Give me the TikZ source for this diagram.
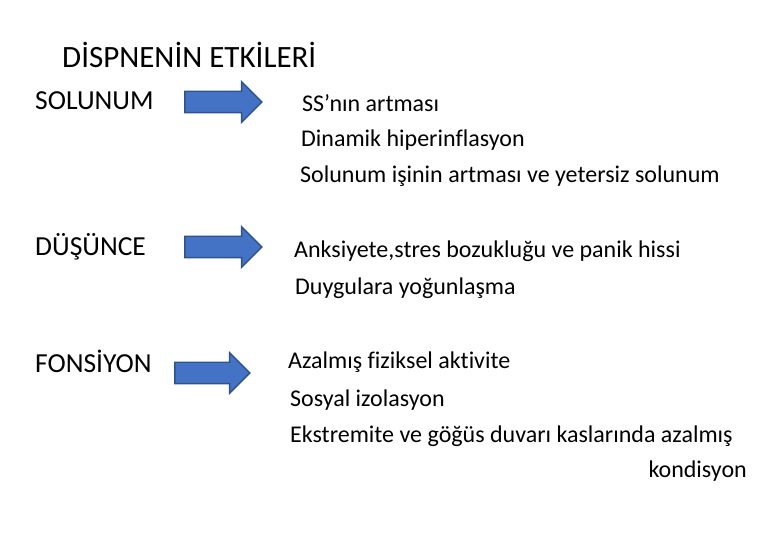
\documentclass[tikz,border=0pt]{standalone}
\usepackage{fontspec}
\setmainfont{Carlito}[Ligatures=CommonOff]
\usepackage{tikz}
\usetikzlibrary{shapes,shapes.arrows,positioning,calc}

\definecolor{arrowfill}{HTML}{4472C4}
\definecolor{arrowline}{HTML}{2F528F}

\begin{document}
\begin{tikzpicture}[x=1pt,y=-1pt,
	font=\fontsize{24}{28}\selectfont]

	\tikzstyle{every node}=[inner sep=0pt, anchor=west, text=black]

	\tikzstyle{heading}=[font=\fontsize{27.5}{32}\selectfont]

	\tikzstyle{blockarrow}=[single arrow, anchor=center,
	fill=arrowfill, draw=arrowline, line width=1.4pt,
	text height=10pt, text depth=10pt, text width=0pt,
	single arrow head extend=9.5pt, single arrow head indent=0pt,
	minimum height=77pt]

	\useasboundingbox (0,0) rectangle (780,540);

	%title
	\node[font=\fontsize{31}{36}\selectfont]
	(title) at (62,55)
	{DİSPNENİN ETKİLERİ};

	%solunum
	\node[heading]
	(solunum) at (35,101)
	{SOLUNUM};

	\node[blockarrow]
	(arrowA) at (218,102)
	{};

	\node
	(ss) at (302,103)
	{SS’nın artması};

	\node
	(dinamik) at (301,140)
	{Dinamik hiperinflasyon};

	\node
	(isi) at (300,176)
	{Solunum işinin artması ve yetersiz solunum};

	%dusunce
	\node[heading]
	(dusunce) at (35,247)
	{DÜŞÜNCE};

	\node[blockarrow]
	(arrowB) at (218,247)
	{};

	\node
	(anksiyete) at (294,251)
	{Anksiyete,stres bozukluğu ve panik hissi};

	\node
	(duygu) at (295,288)
	{Duygulara yoğunlaşma};

	%fonsiyon
	\node[heading]
	(fonsiyon) at (35,361)
	{FONSİYON};

	\node[blockarrow, minimum height=75pt]
	(arrowC) at (207,373)
	{};

	\node
	(aktivite) at (288,362)
	{Azalmış fiziksel aktivite};

	\node
	(izolasyon) at (290,400)
	{Sosyal izolasyon};

	\node
	(ekstremite) at (290,436)
	{Ekstremite ve göğüs duvarı kaslarında azalmış};

	\node[anchor=east]
	(kondisyon) at (747,471)
	{kondisyon};

\end{tikzpicture}
\end{document}
